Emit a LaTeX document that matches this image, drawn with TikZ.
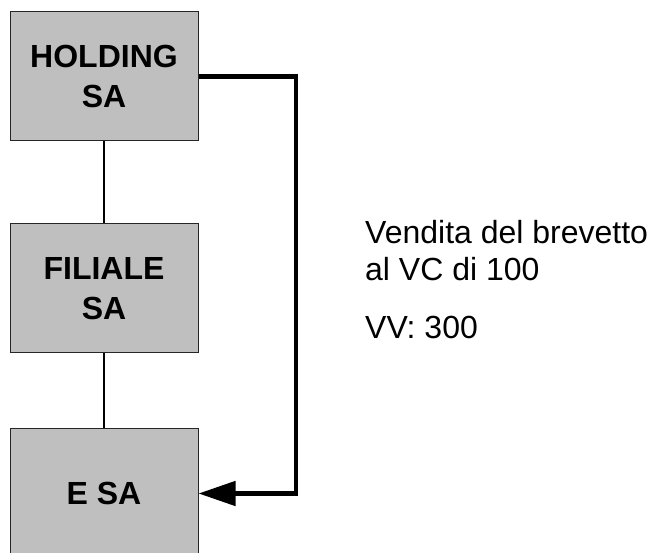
\documentclass[tikz,border=0pt]{standalone}
\usepackage{fontspec}
\setmainfont{Liberation Sans}
\usetikzlibrary{arrows.meta,positioning}

\begin{document}
\begin{tikzpicture}[x=1pt,y=-1pt,
    societa/.style={draw=black!85, fill=black!25, line width=1pt, minimum width=188pt, minimum height=129pt,
      inner sep=0pt, align=center, font=\fontsize{32}{40}\selectfont\bfseries},
    legame/.style={line width=1.2pt},
    cessione/.style={line width=4.7pt, -{Triangle[length=37pt,width=24pt]}},
    testo/.style={inner sep=0pt, align=left, font=\fontsize{32}{37}\selectfont}]
        \useasboundingbox (0,0) rectangle (657,553);
        \begin{scope}
        \clip (0,0) rectangle (657,553);
        % Le tre societa
        \node[societa] (holding) at (104,76.5) {HOLDING\\SA};
        \node[societa] (filiale) at (104,288.5) {FILIALE\\SA};
        \node[societa] (esa) at (104,493.5) {E SA};
        \end{scope}
        \draw[legame] (holding) -- (filiale);
        \draw[legame] (filiale) -- (esa);
        % Vendita del brevetto
        \coordinate (giro) at (296,76.5);
        \draw[cessione] (holding.east) -- (giro) |- (esa.east);
        \node[testo, anchor=north west] (vendita) at (365,220) {Vendita del brevetto\\al VC di 100};
        \node[testo, anchor=base west] (vv) at (365,339) {VV: 300};
      \end{tikzpicture}
\end{document}
